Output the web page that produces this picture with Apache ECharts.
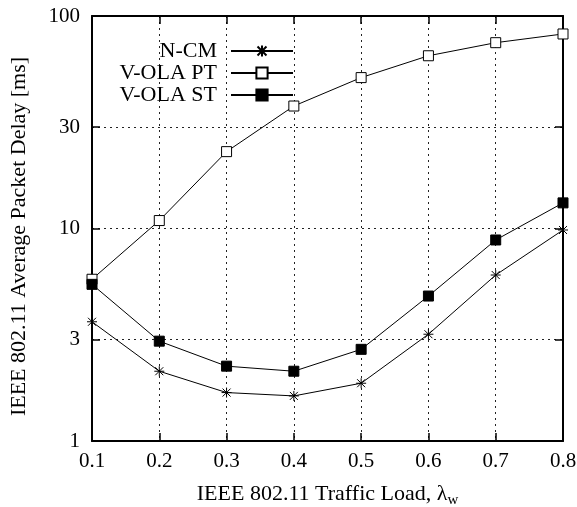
<!DOCTYPE html>
<html>
<head>
<meta charset="utf-8">
<script src="https://cdn.jsdelivr.net/npm/echarts@6/dist/echarts.min.js"></script>
<style>html,body{margin:0;padding:0;background:#fff}#c{width:577px;height:507px}</style>
</head>
<body>
<div id="c"></div>
<script>
const loads = [0.1, 0.2, 0.3, 0.4, 0.5, 0.6, 0.7, 0.8];
const ncm = [3.64, 2.13, 1.69, 1.63, 1.87, 3.18, 6.04, 9.84];
const volaPT = [5.77, 10.9, 23.0, 37.7, 51.3, 65.0, 74.9, 82.3];
const volaST = [5.46, 2.95, 2.25, 2.13, 2.70, 4.81, 8.83, 13.2];
const yTicks = [1, 3, 10, 30, 100];
const seriesNames = ['N-CM', 'V-OLA PT', 'V-OLA ST'];

const font = 'Liberation Serif';
const pairs = (vals) => loads.map((x, i) => [x, vals[i]]);
const asterisk = 'path://M0,-10L0,10M-10,0L10,0M-8,-8L8,8M-8,8L8,-8';
const gridLine = {show: true, lineStyle: {color: '#222', type: [2, 4], width: 1}};

const chart = echarts.init(document.getElementById('c'));
chart.setOption({
  animation: false,
  backgroundColor: '#fff',
  grid: {left: 92, right: 14, top: 16, bottom: 66, outerBoundsMode: 'none', containLabel: false},
  legend: {
    data: seriesNames,
    orient: 'vertical',
    left: 102, top: 35,
    align: 'right',
    itemWidth: 62, itemHeight: 14, itemGap: 0,
    textStyle: {fontFamily: font, fontSize: 22, color: '#000', width: 110, align: 'right', lineHeight: 21.5, padding: [0, 9, 0, 0]}
  },
  xAxis: [{
    type: 'value', min: 0.1, max: 0.8, interval: 0.1,
    axisLine: {lineStyle: {color: '#000', width: 2}},
    axisTick: {inside: true, length: 8, lineStyle: {color: '#000', width: 1.5}},
    axisLabel: {fontFamily: font, fontSize: 21, color: '#000', margin: 10, formatter: v => v.toFixed(1)},
    splitLine: gridLine,
    name: '{a|IEEE 802.11 Traffic Load, λ}{s|w}',
    nameLocation: 'middle', nameGap: 40,
    nameTextStyle: {rich: {
      a: {fontFamily: font, fontSize: 22, color: '#000'},
      s: {fontFamily: font, fontSize: 15, color: '#000', padding: [12, 0, 0, 0]}
    }}
  }, {
    type: 'value', min: 0.1, max: 0.8, interval: 0.1, position: 'top',
    axisLine: {lineStyle: {color: '#000', width: 2}},
    axisTick: {inside: true, length: 8, lineStyle: {color: '#000', width: 1.5}},
    axisLabel: {show: false}, splitLine: {show: false}
  }],
  yAxis: [{
    type: 'log', logBase: 10, min: 1, max: 100,
    axisLine: {show: true, lineStyle: {color: '#000', width: 2}},
    axisTick: {show: true, inside: true, length: 8, customValues: yTicks, lineStyle: {color: '#000', width: 1.5}},
    axisLabel: {fontFamily: font, fontSize: 21, color: '#000', margin: 12, customValues: yTicks},
    splitLine: Object.assign({customValues: yTicks}, gridLine),
    name: 'IEEE 802.11 Average Packet Delay [ms]',
    nameLocation: 'middle', nameGap: 62,
    nameTextStyle: {fontFamily: font, fontSize: 22, color: '#000', padding: [0, 16, 0, 0]}
  }, {
    type: 'log', logBase: 10, min: 1, max: 100, position: 'right',
    axisLine: {show: true, lineStyle: {color: '#000', width: 2}},
    axisTick: {show: true, inside: true, length: 8, customValues: yTicks, lineStyle: {color: '#000', width: 1.5}},
    axisLabel: {show: false}, splitLine: {show: false}
  }],
  series: [{
    name: seriesNames[0], type: 'line', data: pairs(ncm),
    symbol: asterisk, symbolSize: 10,
    lineStyle: {color: '#000', width: 1},
    itemStyle: {color: '#000', borderColor: '#000', borderWidth: 1}
  }, {
    name: seriesNames[1], type: 'line', data: pairs(volaPT),
    symbol: 'rect', symbolSize: 10,
    lineStyle: {color: '#000', width: 1},
    itemStyle: {color: '#fff', borderColor: '#000', borderWidth: 1}
  }, {
    name: seriesNames[2], type: 'line', data: pairs(volaST),
    symbol: 'rect', symbolSize: 10,
    lineStyle: {color: '#000', width: 1},
    itemStyle: {color: '#000', borderColor: '#000', borderWidth: 1}
  }]
});
</script>
</body>
</html>
